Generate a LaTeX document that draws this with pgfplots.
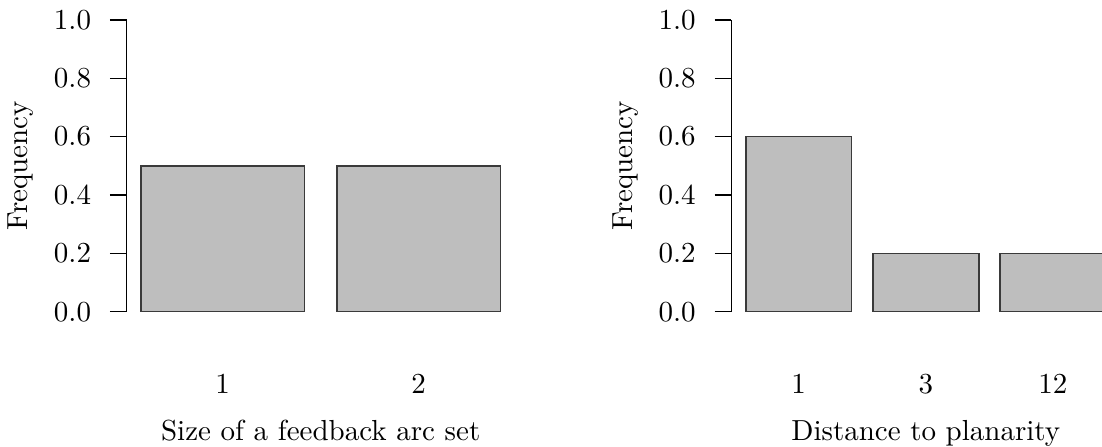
\documentclass[border=0pt]{standalone}
\usepackage{pgfplots}
\pgfplotsset{compat=1.18}
\definecolor{barfill}{HTML}{BEBEBE}
\definecolor{baredge}{HTML}{3A3A3A}
\pgfplotsset{
  rbar/.style={
    scale only axis,
    height=100.59pt,
    ymin=0, ymax=1,
    axis lines*=left,
    x axis line style={draw=none},
    xtick style={draw=none},
    y axis line style={line width=0.5pt, black},
    ytick={0,0.2,0.4,0.6,0.8,1.0},
    ytick style={line width=0.5pt, black},
    tick align=outside,
    major tick length=5.76pt,
    yticklabel style={/pgf/number format/.cd, fixed, fixed zerofill, precision=1, /tikz/.cd, anchor=east, xshift=-3.0pt},
    xticklabel style={anchor=center, yshift=-19.24pt},
    xtick=data,
    clip=false,
    ylabel={Frequency},
    ylabel style={at={(axis description cs:-0.2727,0.5)}, anchor=center, rotate=0},
    xlabel style={at={(axis description cs:0.5,-0.44)}, anchor=base},
  },
  rbarplot/.style={ybar, bar width=1, fill=barfill, draw=baredge, line width=0.5pt, mark=none},
}
\begin{document}
\begin{tikzpicture}
\begin{axis}[rbar, at={(43.69pt,46.66pt)}, anchor=south west, width=133.8pt,
  xmin=0.112, xmax=2.488, xticklabels={1,2},
  xlabel={Size of a feedback arc set}]
\addplot[rbarplot] coordinates {(0.7,0.5) (1.9,0.5)};
\end{axis}
\begin{axis}[rbar, at={(252.2pt,46.66pt)}, anchor=south west, width=134.1pt,
  xmin=0.064, xmax=3.736, xticklabels={1,3,12},
  xlabel={Distance to planarity}]
\addplot[rbarplot] coordinates {(0.7,0.6) (1.9,0.2) (3.1,0.2)};
\end{axis}
\pgfresetboundingbox
\path[use as bounding box] (0,0) rectangle (380pt,154.14pt);
\end{tikzpicture}
\end{document}
